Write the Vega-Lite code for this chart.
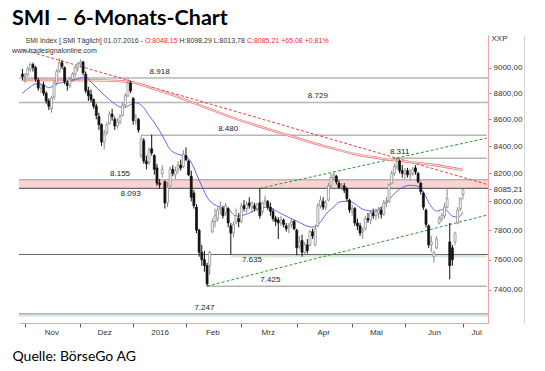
{
  "$schema": "https://vega.github.io/schema/vega-lite/v6.json",
  "width": 469,
  "height": 288,
  "autosize": "none",
  "padding": {"left": 19, "top": 35, "right": 57, "bottom": 48},
  "background": "white",
  "config": {"view": {"stroke": null}, "axis": {"grid": false}},
  "title": {
    "text": "SMI – 6-Monats-Chart",
    "subtitle": ["\u00a0\u00a0\u00a0\u00a0\u00a0\u00a0www.tradesignalonline.com"],
    "anchor": "start",
    "frame": "group",
    "dx": -7,
    "offset": -20,
    "font": "Lato",
    "fontSize": 21.5,
    "fontWeight": "bold",
    "color": "#000000",
    "subtitleFont": "Liberation Sans",
    "subtitleFontSize": 7,
    "subtitleColor": "#333333",
    "subtitleLineHeight": 10,
    "subtitlePadding": 18
  },
  "params": [
    {"name": "xdom", "value": ["2015-10-30",
      "2015-11-02","2015-11-03","2015-11-04","2015-11-05","2015-11-06","2015-11-09","2015-11-10","2015-11-11","2015-11-12","2015-11-13","2015-11-16","2015-11-17","2015-11-18","2015-11-19","2015-11-20","2015-11-23","2015-11-24","2015-11-25","2015-11-26","2015-11-27","2015-11-30",
      "2015-12-01","2015-12-02","2015-12-03","2015-12-04","2015-12-07","2015-12-08","2015-12-09","2015-12-10","2015-12-11","2015-12-14","2015-12-15","2015-12-16","2015-12-17","2015-12-18","2015-12-21","2015-12-22","2015-12-23","2015-12-28","2015-12-29","2015-12-30",
      "2016-01-04","2016-01-05","2016-01-06","2016-01-07","2016-01-08","2016-01-11","2016-01-12","2016-01-13","2016-01-14","2016-01-15","2016-01-18","2016-01-19","2016-01-20","2016-01-21","2016-01-22","2016-01-25","2016-01-26","2016-01-27","2016-01-28","2016-01-29",
      "2016-02-01","2016-02-02","2016-02-03","2016-02-04","2016-02-05","2016-02-08","2016-02-09","2016-02-10","2016-02-11","2016-02-12","2016-02-15","2016-02-16","2016-02-17","2016-02-18","2016-02-19","2016-02-22","2016-02-23","2016-02-24","2016-02-25","2016-02-26","2016-02-29",
      "2016-03-01","2016-03-02","2016-03-03","2016-03-04","2016-03-07","2016-03-08","2016-03-09","2016-03-10","2016-03-11","2016-03-14","2016-03-15","2016-03-16","2016-03-17","2016-03-18","2016-03-21","2016-03-22","2016-03-23","2016-03-24","2016-03-29","2016-03-30","2016-03-31",
      "2016-04-01","2016-04-04","2016-04-05","2016-04-06","2016-04-07","2016-04-08","2016-04-11","2016-04-12","2016-04-13","2016-04-14","2016-04-15","2016-04-18","2016-04-19","2016-04-20","2016-04-21","2016-04-22","2016-04-25","2016-04-26","2016-04-27","2016-04-28","2016-04-29",
      "2016-05-02","2016-05-03","2016-05-04","2016-05-06","2016-05-09","2016-05-10","2016-05-11","2016-05-12","2016-05-13","2016-05-17","2016-05-18","2016-05-19","2016-05-20","2016-05-23","2016-05-24","2016-05-25","2016-05-26","2016-05-27","2016-05-30","2016-05-31",
      "2016-06-01","2016-06-02","2016-06-03","2016-06-06","2016-06-07","2016-06-08","2016-06-09","2016-06-10","2016-06-13","2016-06-14","2016-06-15","2016-06-16","2016-06-17","2016-06-20","2016-06-21","2016-06-22","2016-06-23","2016-06-24","2016-06-27","2016-06-28","2016-06-29","2016-06-30",
      "2016-07-01","2016-07-04","2016-07-05","2016-07-06","2016-07-07","2016-07-08","2016-07-11","2016-07-12","2016-07-13","2016-07-14"]}
  ],
  "datasets": {
    "candles": [
      {"d":"2015-10-30","o":8950,"h":8990,"l":8900,"c":8930},
      {"d":"2015-11-02","o":8930,"h":8960,"l":8880,"c":8945},
      {"d":"2015-11-03","o":8945,"h":9010,"l":8930,"c":8990},
      {"d":"2015-11-04","o":8990,"h":9040,"l":8970,"c":9025},
      {"d":"2015-11-05","o":9025,"h":9040,"l":8970,"c":9000},
      {"d":"2015-11-06","o":9000,"h":9015,"l":8890,"c":8910},
      {"d":"2015-11-09","o":8900,"h":8920,"l":8820,"c":8840},
      {"d":"2015-11-10","o":8840,"h":8880,"l":8800,"c":8865},
      {"d":"2015-11-11","o":8865,"h":8890,"l":8780,"c":8800},
      {"d":"2015-11-12","o":8800,"h":8815,"l":8720,"c":8740},
      {"d":"2015-11-13","o":8740,"h":8760,"l":8670,"c":8700},
      {"d":"2015-11-16","o":8680,"h":8780,"l":8650,"c":8765},
      {"d":"2015-11-17","o":8770,"h":8900,"l":8750,"c":8880},
      {"d":"2015-11-18","o":8880,"h":8990,"l":8860,"c":8970},
      {"d":"2015-11-19","o":8975,"h":9075,"l":8960,"c":9040},
      {"d":"2015-11-20","o":9040,"h":9060,"l":8990,"c":9010},
      {"d":"2015-11-23","o":9000,"h":9010,"l":8870,"c":8890},
      {"d":"2015-11-24","o":8880,"h":8900,"l":8820,"c":8860},
      {"d":"2015-11-25","o":8860,"h":8930,"l":8840,"c":8910},
      {"d":"2015-11-26","o":8910,"h":8965,"l":8890,"c":8950},
      {"d":"2015-11-27","o":8950,"h":9020,"l":8930,"c":9000},
      {"d":"2015-11-30","o":9000,"h":9045,"l":8970,"c":9030},
      {"d":"2015-12-01","o":9030,"h":9065,"l":9000,"c":9045},
      {"d":"2015-12-02","o":9045,"h":9055,"l":8940,"c":8960},
      {"d":"2015-12-03","o":8950,"h":8970,"l":8800,"c":8820},
      {"d":"2015-12-04","o":8820,"h":8850,"l":8740,"c":8780},
      {"d":"2015-12-07","o":8790,"h":8830,"l":8730,"c":8750},
      {"d":"2015-12-08","o":8750,"h":8760,"l":8680,"c":8700},
      {"d":"2015-12-09","o":8700,"h":8720,"l":8600,"c":8630},
      {"d":"2015-12-10","o":8620,"h":8650,"l":8520,"c":8560},
      {"d":"2015-12-11","o":8560,"h":8570,"l":8400,"c":8430},
      {"d":"2015-12-14","o":8430,"h":8520,"l":8375,"c":8490},
      {"d":"2015-12-15","o":8500,"h":8580,"l":8480,"c":8560},
      {"d":"2015-12-16","o":8570,"h":8660,"l":8560,"c":8640},
      {"d":"2015-12-17","o":8640,"h":8680,"l":8590,"c":8620},
      {"d":"2015-12-18","o":8600,"h":8620,"l":8520,"c":8550},
      {"d":"2015-12-21","o":8550,"h":8610,"l":8530,"c":8580},
      {"d":"2015-12-22","o":8580,"h":8640,"l":8560,"c":8620},
      {"d":"2015-12-23","o":8630,"h":8730,"l":8620,"c":8710},
      {"d":"2015-12-28","o":8710,"h":8800,"l":8690,"c":8780},
      {"d":"2015-12-29","o":8780,"h":8918,"l":8770,"c":8880},
      {"d":"2015-12-30","o":8880,"h":8895,"l":8800,"c":8818},
      {"d":"2016-01-04","o":8760,"h":8770,"l":8560,"c":8590},
      {"d":"2016-01-05","o":8590,"h":8640,"l":8560,"c":8610},
      {"d":"2016-01-06","o":8600,"h":8610,"l":8500,"c":8520},
      {"d":"2016-01-07","o":8330,"h":8480,"l":8310,"c":8450},
      {"d":"2016-01-08","o":8440,"h":8460,"l":8270,"c":8290},
      {"d":"2016-01-11","o":8290,"h":8330,"l":8230,"c":8270},
      {"d":"2016-01-12","o":8280,"h":8390,"l":8260,"c":8370},
      {"d":"2016-01-13","o":8380,"h":8485,"l":8330,"c":8350},
      {"d":"2016-01-14","o":8330,"h":8340,"l":8190,"c":8230},
      {"d":"2016-01-15","o":8240,"h":8270,"l":8110,"c":8130},
      {"d":"2016-01-18","o":8130,"h":8160,"l":8090,"c":8120},
      {"d":"2016-01-19","o":8200,"h":8260,"l":8170,"c":8230},
      {"d":"2016-01-20","o":8140,"h":8150,"l":7950,"c":7990},
      {"d":"2016-01-21","o":7990,"h":8140,"l":7960,"c":8100},
      {"d":"2016-01-22","o":8110,"h":8250,"l":8100,"c":8230},
      {"d":"2016-01-25","o":8230,"h":8260,"l":8180,"c":8200},
      {"d":"2016-01-26","o":8190,"h":8250,"l":8160,"c":8220},
      {"d":"2016-01-27","o":8230,"h":8290,"l":8200,"c":8260},
      {"d":"2016-01-28","o":8260,"h":8300,"l":8220,"c":8240},
      {"d":"2016-01-29","o":8250,"h":8370,"l":8240,"c":8340},
      {"d":"2016-02-01","o":8330,"h":8390,"l":8290,"c":8300},
      {"d":"2016-02-02","o":8290,"h":8300,"l":8180,"c":8190},
      {"d":"2016-02-03","o":8180,"h":8220,"l":8000,"c":8030},
      {"d":"2016-02-04","o":8060,"h":8080,"l":7950,"c":7970},
      {"d":"2016-02-05","o":7960,"h":7980,"l":7780,"c":7800},
      {"d":"2016-02-08","o":7800,"h":7810,"l":7620,"c":7650},
      {"d":"2016-02-09","o":7650,"h":7700,"l":7560,"c":7600},
      {"d":"2016-02-10","o":7600,"h":7660,"l":7520,"c":7560},
      {"d":"2016-02-11","o":7560,"h":7580,"l":7425,"c":7440},
      {"d":"2016-02-12","o":7560,"h":7660,"l":7500,"c":7650},
      {"d":"2016-02-15","o":7790,"h":7880,"l":7780,"c":7860},
      {"d":"2016-02-16","o":7860,"h":7950,"l":7820,"c":7900},
      {"d":"2016-02-17","o":7880,"h":7960,"l":7860,"c":7940},
      {"d":"2016-02-18","o":7950,"h":8000,"l":7910,"c":7960},
      {"d":"2016-02-19","o":7950,"h":7970,"l":7880,"c":7900},
      {"d":"2016-02-22","o":7920,"h":7990,"l":7900,"c":7970},
      {"d":"2016-02-23","o":7950,"h":7960,"l":7820,"c":7850},
      {"d":"2016-02-24","o":7830,"h":7850,"l":7635,"c":7780},
      {"d":"2016-02-25","o":7780,"h":7860,"l":7750,"c":7840},
      {"d":"2016-02-26","o":7850,"h":7950,"l":7840,"c":7900},
      {"d":"2016-02-29","o":7880,"h":7920,"l":7820,"c":7860},
      {"d":"2016-03-01","o":7860,"h":7990,"l":7850,"c":7970},
      {"d":"2016-03-02","o":7970,"h":8010,"l":7930,"c":7950},
      {"d":"2016-03-03","o":7950,"h":8000,"l":7920,"c":7980},
      {"d":"2016-03-04","o":7990,"h":8030,"l":7950,"c":7970},
      {"d":"2016-03-07","o":7960,"h":8000,"l":7920,"c":7990},
      {"d":"2016-03-08","o":7970,"h":7990,"l":7930,"c":7950},
      {"d":"2016-03-09","o":7950,"h":7990,"l":7930,"c":7980},
      {"d":"2016-03-10","o":7990,"h":8093,"l":7880,"c":7900},
      {"d":"2016-03-11","o":7930,"h":8000,"l":7910,"c":7990},
      {"d":"2016-03-14","o":8000,"h":8040,"l":7970,"c":8010},
      {"d":"2016-03-15","o":8000,"h":8010,"l":7940,"c":7960},
      {"d":"2016-03-16","o":7960,"h":7990,"l":7900,"c":7930},
      {"d":"2016-03-17","o":7930,"h":7950,"l":7860,"c":7880},
      {"d":"2016-03-18","o":7880,"h":7900,"l":7830,"c":7860},
      {"d":"2016-03-21","o":7870,"h":7890,"l":7740,"c":7850},
      {"d":"2016-03-22","o":7850,"h":7900,"l":7830,"c":7870},
      {"d":"2016-03-23","o":7870,"h":7880,"l":7820,"c":7840},
      {"d":"2016-03-24","o":7830,"h":7850,"l":7790,"c":7810},
      {"d":"2016-03-29","o":7820,"h":7850,"l":7780,"c":7830},
      {"d":"2016-03-30","o":7840,"h":7880,"l":7820,"c":7860},
      {"d":"2016-03-31","o":7860,"h":7870,"l":7800,"c":7810},
      {"d":"2016-04-01","o":7800,"h":7810,"l":7630,"c":7680},
      {"d":"2016-04-04","o":7690,"h":7760,"l":7670,"c":7720},
      {"d":"2016-04-05","o":7730,"h":7770,"l":7620,"c":7650},
      {"d":"2016-04-06","o":7650,"h":7720,"l":7630,"c":7700},
      {"d":"2016-04-07","o":7700,"h":7740,"l":7640,"c":7660},
      {"d":"2016-04-08","o":7700,"h":7800,"l":7690,"c":7790},
      {"d":"2016-04-11","o":7790,"h":7810,"l":7740,"c":7760},
      {"d":"2016-04-12","o":7700,"h":7840,"l":7690,"c":7810},
      {"d":"2016-04-13","o":7830,"h":7990,"l":7820,"c":7970},
      {"d":"2016-04-14","o":7970,"h":8040,"l":7950,"c":8010},
      {"d":"2016-04-15","o":8000,"h":8030,"l":7940,"c":7960},
      {"d":"2016-04-18","o":7960,"h":8010,"l":7940,"c":7990},
      {"d":"2016-04-19","o":8010,"h":8130,"l":8000,"c":8110},
      {"d":"2016-04-20","o":8110,"h":8200,"l":8090,"c":8170},
      {"d":"2016-04-21","o":8170,"h":8215,"l":8150,"c":8190},
      {"d":"2016-04-22","o":8180,"h":8190,"l":8120,"c":8140},
      {"d":"2016-04-25","o":8130,"h":8150,"l":8090,"c":8100},
      {"d":"2016-04-26","o":8100,"h":8130,"l":8080,"c":8110},
      {"d":"2016-04-27","o":8110,"h":8130,"l":8060,"c":8080},
      {"d":"2016-04-28","o":8090,"h":8100,"l":8000,"c":8020},
      {"d":"2016-04-29","o":8010,"h":8020,"l":7920,"c":7940},
      {"d":"2016-05-02","o":7930,"h":7980,"l":7900,"c":7950},
      {"d":"2016-05-03","o":7950,"h":7960,"l":7830,"c":7850},
      {"d":"2016-05-04","o":7850,"h":7880,"l":7800,"c":7830},
      {"d":"2016-05-06","o":7830,"h":7850,"l":7760,"c":7780},
      {"d":"2016-05-09","o":7790,"h":7820,"l":7740,"c":7800},
      {"d":"2016-05-10","o":7810,"h":7900,"l":7800,"c":7880},
      {"d":"2016-05-11","o":7880,"h":7920,"l":7850,"c":7870},
      {"d":"2016-05-12","o":7870,"h":7940,"l":7840,"c":7920},
      {"d":"2016-05-13","o":7920,"h":7950,"l":7880,"c":7900},
      {"d":"2016-05-17","o":7900,"h":7950,"l":7870,"c":7930},
      {"d":"2016-05-18","o":7920,"h":7960,"l":7880,"c":7940},
      {"d":"2016-05-19","o":7940,"h":7960,"l":7880,"c":7910},
      {"d":"2016-05-20","o":7910,"h":8010,"l":7900,"c":7990},
      {"d":"2016-05-23","o":7990,"h":8030,"l":7960,"c":8000},
      {"d":"2016-05-24","o":8000,"h":8130,"l":7990,"c":8120},
      {"d":"2016-05-25","o":8130,"h":8220,"l":8120,"c":8200},
      {"d":"2016-05-26","o":8200,"h":8270,"l":8180,"c":8250},
      {"d":"2016-05-27","o":8250,"h":8311,"l":8230,"c":8290},
      {"d":"2016-05-30","o":8290,"h":8300,"l":8200,"c":8220},
      {"d":"2016-05-31","o":8220,"h":8260,"l":8170,"c":8200},
      {"d":"2016-06-01","o":8200,"h":8240,"l":8160,"c":8220},
      {"d":"2016-06-02","o":8220,"h":8240,"l":8170,"c":8190},
      {"d":"2016-06-03","o":8190,"h":8230,"l":8150,"c":8200},
      {"d":"2016-06-06","o":8200,"h":8250,"l":8180,"c":8230},
      {"d":"2016-06-07","o":8240,"h":8260,"l":8190,"c":8210},
      {"d":"2016-06-08","o":8200,"h":8210,"l":8130,"c":8140},
      {"d":"2016-06-09","o":8130,"h":8140,"l":8050,"c":8070},
      {"d":"2016-06-10","o":8060,"h":8070,"l":7940,"c":7960},
      {"d":"2016-06-13","o":7940,"h":7950,"l":7820,"c":7840},
      {"d":"2016-06-14","o":7830,"h":7840,"l":7680,"c":7700},
      {"d":"2016-06-15","o":7700,"h":7760,"l":7650,"c":7720},
      {"d":"2016-06-16","o":7620,"h":7660,"l":7580,"c":7650},
      {"d":"2016-06-17","o":7680,"h":7760,"l":7670,"c":7740},
      {"d":"2016-06-20","o":7850,"h":7900,"l":7840,"c":7880},
      {"d":"2016-06-21","o":7880,"h":7920,"l":7860,"c":7900},
      {"d":"2016-06-22","o":7900,"h":7990,"l":7880,"c":7960},
      {"d":"2016-06-23","o":7960,"h":8090,"l":7950,"c":8020},
      {"d":"2016-06-24","o":7720,"h":7850,"l":7470,"c":7560},
      {"d":"2016-06-27","o":7680,"h":7700,"l":7560,"c":7600},
      {"d":"2016-06-28","o":7720,"h":7790,"l":7700,"c":7780},
      {"d":"2016-06-29","o":7850,"h":7960,"l":7840,"c":7940},
      {"d":"2016-06-30","o":7950,"h":8030,"l":7930,"c":8020.13},
      {"d":"2016-07-01","o":8048.15,"h":8098.29,"l":8013.78,"c":8085.21}
    ],
    "ma": [
      {"d":"2015-10-30","v":8800},{"d":"2015-11-04","v":8849},{"d":"2015-11-06","v":8873},{"d":"2015-11-11","v":8865},
      {"d":"2015-11-13","v":8842},{"d":"2015-11-18","v":8873},{"d":"2015-11-24","v":8888},{"d":"2015-11-30","v":8912},
      {"d":"2015-12-03","v":8927},{"d":"2015-12-07","v":8888},{"d":"2015-12-10","v":8826},{"d":"2015-12-16","v":8750},
      {"d":"2015-12-21","v":8705},{"d":"2015-12-23","v":8689},{"d":"2015-12-30","v":8712},{"d":"2016-01-05","v":8727},
      {"d":"2016-01-08","v":8689},{"d":"2016-01-12","v":8629},{"d":"2016-01-15","v":8546},{"d":"2016-01-19","v":8479},
      {"d":"2016-01-22","v":8375},{"d":"2016-01-27","v":8339},{"d":"2016-02-01","v":8324},{"d":"2016-02-03","v":8280},
      {"d":"2016-02-05","v":8194},{"d":"2016-02-09","v":8108},{"d":"2016-02-11","v":8030},{"d":"2016-02-17","v":7967},
      {"d":"2016-02-23","v":7946},{"d":"2016-02-26","v":7897},{"d":"2016-03-03","v":7911},{"d":"2016-03-09","v":7946},
      {"d":"2016-03-15","v":7960},{"d":"2016-03-21","v":7925},{"d":"2016-03-24","v":7897},{"d":"2016-04-01","v":7863},
      {"d":"2016-04-07","v":7828},{"d":"2016-04-11","v":7821},{"d":"2016-04-14","v":7856},{"d":"2016-04-18","v":7911},
      {"d":"2016-04-21","v":7960},{"d":"2016-04-25","v":7995},{"d":"2016-04-28","v":8002},{"d":"2016-05-02","v":7995},
      {"d":"2016-05-09","v":7946},{"d":"2016-05-13","v":7932},{"d":"2016-05-18","v":7946},{"d":"2016-05-24","v":8016},
      {"d":"2016-05-30","v":8087},{"d":"2016-06-03","v":8115},{"d":"2016-06-08","v":8108},{"d":"2016-06-10","v":8066},
      {"d":"2016-06-14","v":7995},{"d":"2016-06-17","v":7932},{"d":"2016-06-22","v":7946},{"d":"2016-06-27","v":7897},
      {"d":"2016-06-29","v":7890},{"d":"2016-07-01","v":7925}
    ],
    "maLong": [
      {"d":"2015-10-30","v":8903},{"d":"2015-11-19","v":8903},{"d":"2015-12-10","v":8900},{"d":"2015-12-30","v":8887},
      {"d":"2016-01-14","v":8833},{"d":"2016-01-27","v":8771},{"d":"2016-02-10","v":8694},{"d":"2016-02-24","v":8618},
      {"d":"2016-03-22","v":8497},{"d":"2016-04-20","v":8386},{"d":"2016-05-03","v":8341},{"d":"2016-05-18","v":8312},
      {"d":"2016-05-31","v":8290},{"d":"2016-06-16","v":8261},{"d":"2016-07-01","v":8225}
    ],
    "levelsLight": [{"v":8918},{"v":8729},{"v":8155},{"v":7247}],
    "levelsDark": [{"v":8093},{"v":7635}],
    "levelsPartial": [
      {"v":8480,"d":"2016-01-07","d2":"2016-07-14"},
      {"v":8311,"d":"2016-05-26","d2":"2016-07-14"},
      {"v":7425,"d":"2016-02-11","d2":"2016-07-14"}
    ],
    "redTrends": [
      {"d":"2015-10-30","v":9145,"d2":"2016-07-14","v2":8122}
    ],
    "greenTrends": [
      {"d":"2016-02-11","v":7425,"d2":"2016-07-14","v2":7904},
      {"d":"2016-03-10","v":8093,"d2":"2016-07-14","v2":8459}
    ],
    "labelsAbove": [
      {"d":"2016-01-18","v":8918,"t":"8.918"},
      {"d":"2016-04-13","v":8729,"t":"8.729"},
      {"d":"2016-02-23","v":8480,"t":"8.480"},
      {"d":"2016-05-30","v":8311,"t":"8.311"},
      {"d":"2015-12-22","v":8155,"t":"8.155"},
      {"d":"2016-03-16","v":7425,"t":"7.425"},
      {"d":"2016-02-10","v":7247,"t":"7.247"}
    ],
    "labelsBelow": [
      {"d":"2015-12-30","v":8093,"t":"8.093"},
      {"d":"2016-03-07","v":7635,"t":"7.635"}
    ]
  },
  "layer": [
    {
      "data": {"values": [{"v":8093,"v2":8155}]},
      "mark": {"type": "rect", "color": "#fbd3d3"},
      "encoding": {
        "y": {"field": "v", "type": "quantitative", "scale": {"type": "log", "domain": [7188, 9263], "nice": false, "zero": false}, "axis": null},
        "y2": {"field": "v2"}
      }
    },
    {
      "data": {"values": [{"v":7229,"v2":7247}]},
      "mark": {"type": "rect", "color": "#d3ead3"},
      "encoding": {
        "y": {"field": "v", "type": "quantitative", "scale": {"type": "log", "domain": [7188, 9263], "nice": false, "zero": false}, "axis": null},
        "y2": {"field": "v2"}
      }
    },
    {
      "data": {"values": [{"d":"2016-02-24","d2":"2016-07-14","v":7617,"v2":7635}]},
      "mark": {"type": "rect", "color": "#d3ead3"},
      "encoding": {
        "x": {"field": "d", "type": "ordinal", "scale": {"type": "point", "domain": {"expr": "xdom"}, "padding": 0.9, "align": 0.7222}, "axis": null},
        "x2": {"field": "d2"},
        "y": {"field": "v", "type": "quantitative", "scale": {"type": "log", "domain": [7188, 9263], "nice": false, "zero": false}, "axis": null},
        "y2": {"field": "v2"}
      }
    },
    {
      "data": {"name": "levelsLight"},
      "mark": {"type": "rule", "color": "#b5b5b5", "strokeWidth": 1.5},
      "encoding": {
        "y": {"field": "v", "type": "quantitative", "scale": {"type": "log", "domain": [7188, 9263], "nice": false, "zero": false}, "axis": null}
      }
    },
    {
      "data": {"name": "levelsDark"},
      "mark": {"type": "rule", "color": "#6a6a6a", "strokeWidth": 1.2},
      "encoding": {
        "y": {"field": "v", "type": "quantitative", "scale": {"type": "log", "domain": [7188, 9263], "nice": false, "zero": false}, "axis": null}
      }
    },
    {
      "data": {"name": "levelsPartial"},
      "mark": {"type": "rule", "color": "#b5b5b5", "strokeWidth": 1.5},
      "encoding": {
        "x": {"field": "d", "type": "ordinal", "scale": {"type": "point", "domain": {"expr": "xdom"}, "padding": 0.9, "align": 0.7222},
          "axis": {"orient": "bottom", "domain": false, "ticks": false, "labels": false, "title": "SMI Index [.SMI Täglich] 01.07.2016 -", "titleX": 6, "titleY": -283, "titleAlign": "left", "titleAnchor": "start", "titleBaseline": "middle", "titleFont": "Liberation Sans", "titleFontSize": 7, "titleFontWeight": "normal", "titleColor": "#333333"}},
        "x2": {"field": "d2"},
        "y": {"field": "v", "type": "quantitative", "scale": {"type": "log", "domain": [7188, 9263], "nice": false, "zero": false}, "axis": null}
      }
    },
    {
      "data": {"name": "redTrends"},
      "mark": {"type": "rule", "color": "#f03a3a", "strokeWidth": 1, "strokeDash": [3, 2], "clip": true},
      "encoding": {
        "x": {"field": "d", "type": "ordinal", "scale": {"type": "point", "domain": {"expr": "xdom"}, "padding": 0.9, "align": 0.7222},
          "axis": {"orient": "bottom", "domain": false, "ticks": false, "labels": false, "title": "O:8048,15", "titleX": 125.4, "titleY": -283, "titleAlign": "left", "titleAnchor": "start", "titleBaseline": "middle", "titleFont": "Liberation Sans", "titleFontSize": 7, "titleFontWeight": "normal", "titleColor": "#f22a2a"}},
        "x2": {"field": "d2"},
        "y": {"field": "v", "type": "quantitative", "scale": {"type": "log", "domain": [7188, 9263], "nice": false, "zero": false}, "axis": null},
        "y2": {"field": "v2"}
      }
    },
    {
      "data": {"name": "greenTrends"},
      "mark": {"type": "rule", "color": "#2e9a2e", "strokeWidth": 1, "strokeDash": [3, 2], "clip": true},
      "encoding": {
        "x": {"field": "d", "type": "ordinal", "scale": {"type": "point", "domain": {"expr": "xdom"}, "padding": 0.9, "align": 0.7222},
          "axis": {"orient": "bottom", "domain": false, "ticks": false, "labels": false, "title": "H:8098,29 L:8013,78", "titleX": 160, "titleY": -283, "titleAlign": "left", "titleAnchor": "start", "titleBaseline": "middle", "titleFont": "Liberation Sans", "titleFontSize": 7, "titleFontWeight": "normal", "titleColor": "#333333"}},
        "x2": {"field": "d2"},
        "y": {"field": "v", "type": "quantitative", "scale": {"type": "log", "domain": [7188, 9263], "nice": false, "zero": false}, "axis": null},
        "y2": {"field": "v2"}
      }
    },
    {
      "data": {"name": "maLong"},
      "mark": {"type": "line", "color": "#f27070", "strokeWidth": 2.3, "interpolate": "monotone"},
      "encoding": {
        "x": {"field": "d", "type": "ordinal", "scale": {"type": "point", "domain": {"expr": "xdom"}, "padding": 0.9, "align": 0.7222}, "axis": null},
        "y": {"field": "v", "type": "quantitative", "scale": {"type": "log", "domain": [7188, 9263], "nice": false, "zero": false}, "axis": null}
      }
    },
    {
      "data": {"name": "maLong"},
      "mark": {"type": "line", "color": "#ffffff", "strokeWidth": 0.8, "interpolate": "monotone"},
      "encoding": {
        "x": {"field": "d", "type": "ordinal", "scale": {"type": "point", "domain": {"expr": "xdom"}, "padding": 0.9, "align": 0.7222}, "axis": null},
        "y": {"field": "v", "type": "quantitative", "scale": {"type": "log", "domain": [7188, 9263], "nice": false, "zero": false}, "axis": null}
      }
    },
    {
      "data": {"name": "ma"},
      "mark": {"type": "line", "color": "#4a58ff", "strokeWidth": 0.9, "interpolate": "monotone"},
      "encoding": {
        "x": {"field": "d", "type": "ordinal", "scale": {"type": "point", "domain": {"expr": "xdom"}, "padding": 0.9, "align": 0.7222},
          "axis": {"orient": "bottom", "domain": false, "ticks": false, "labels": false, "title": "C:8085,21 +65,08 +0,81%", "titleX": 227.4, "titleY": -283, "titleAlign": "left", "titleAnchor": "start", "titleBaseline": "middle", "titleFont": "Liberation Sans", "titleFontSize": 7, "titleFontWeight": "normal", "titleColor": "#f22a2a"}},
        "y": {"field": "v", "type": "quantitative", "scale": {"type": "log", "domain": [7188, 9263], "nice": false, "zero": false}, "axis": null}
      }
    },
    {
      "data": {"name": "candles"},
      "mark": {"type": "rule", "strokeWidth": 1},
      "encoding": {
        "x": {"field": "d", "type": "ordinal", "scale": {"type": "point", "domain": {"expr": "xdom"}, "padding": 0.9, "align": 0.7222},
          "axis": {"orient": "bottom", "values": ["2015-11-02","2015-12-01","2016-01-04","2016-02-01","2016-03-01","2016-04-01","2016-05-02","2016-06-01","2016-07-01"], "labels": false, "ticks": true, "tickSize": 4, "tickColor": "#555555", "domain": true, "domainColor": "#f2a0a0", "domainWidth": 1, "title": null}},
        "y": {"field": "l", "type": "quantitative", "scale": {"type": "log", "domain": [7188, 9263], "nice": false, "zero": false},
          "axis": {"orient": "right", "values": [7400, 7600, 7800, 8000, 8085.21, 8200, 8400, 8600, 8800, 9000], "labelExpr": "replace(format(datum.value, '.2f'), '.', ',')", "labelFont": "Liberation Sans", "labelFontSize": 8, "labelColor": "#333333", "labelPadding": 2, "labelOverlap": false, "tickSize": 3, "tickColor": "#999999", "domainColor": "#f2a0a0", "domainWidth": 1, "title": "XXP", "titleAngle": 0, "titleAlign": "left", "titleBaseline": "middle", "titleX": 3, "titleY": 3, "titleFont": "Liberation Sans", "titleFontSize": 8, "titleFontWeight": "normal", "titleColor": "#333333"}},
        "y2": {"field": "h"},
        "stroke": {"condition": {"test": "datum.c >= datum.o", "value": "#8a8a8a"}, "value": "#111111"}
      }
    },
    {
      "data": {"name": "candles"},
      "mark": {"type": "bar", "size": 2, "strokeWidth": 0.7},
      "encoding": {
        "x": {"field": "d", "type": "ordinal", "scale": {"type": "point", "domain": {"expr": "xdom"}, "padding": 0.9, "align": 0.7222}, "axis": null},
        "y": {"field": "o", "type": "quantitative", "scale": {"type": "log", "domain": [7188, 9263], "nice": false, "zero": false}, "axis": null},
        "y2": {"field": "c"},
        "fill": {"condition": {"test": "datum.c >= datum.o", "value": "#ffffff"}, "value": "#111111"},
        "stroke": {"condition": {"test": "datum.c >= datum.o", "value": "#808080"}, "value": "#111111"}
      }
    },
    {
      "data": {"name": "labelsAbove"},
      "mark": {"type": "text", "dy": -6, "font": "Liberation Sans", "fontSize": 8, "color": "#222222", "baseline": "middle"},
      "encoding": {
        "x": {"field": "d", "type": "ordinal", "scale": {"type": "point", "domain": {"expr": "xdom"}, "padding": 0.9, "align": 0.7222}, "axis": null},
        "y": {"field": "v", "type": "quantitative", "scale": {"type": "log", "domain": [7188, 9263], "nice": false, "zero": false},
          "axis": {"orient": "right", "offset": 36, "labels": false, "ticks": false, "domain": true, "domainColor": "#d4d4d4", "domainWidth": 1, "title": null}},
        "text": {"field": "t"}
      }
    },
    {
      "data": {"name": "labelsBelow"},
      "mark": {"type": "text", "dy": 6, "font": "Liberation Sans", "fontSize": 8, "color": "#222222", "baseline": "middle"},
      "encoding": {
        "x": {"field": "d", "type": "ordinal", "scale": {"type": "point", "domain": {"expr": "xdom"}, "padding": 0.9, "align": 0.7222},
          "axis": {"orient": "bottom", "values": ["2015-11-16","2015-12-14","2016-01-18","2016-02-15","2016-03-15","2016-04-15","2016-05-17","2016-06-16","2016-07-08"],
            "labelExpr": "substring(datum.value,5,7)=='11'?'Nov':substring(datum.value,5,7)=='12'?'Dez':substring(datum.value,5,7)=='01'?'2016':substring(datum.value,5,7)=='02'?'Feb':substring(datum.value,5,7)=='03'?'Mrz':substring(datum.value,5,7)=='04'?'Apr':substring(datum.value,5,7)=='05'?'Mai':substring(datum.value,5,7)=='06'?'Jun':'Jul'",
            "labelAngle": 0, "labelFont": "Liberation Sans", "labelFontSize": 8, "labelColor": "#333333", "labelPadding": 5, "labelOverlap": false,
            "ticks": false, "domain": false,
            "title": "Quelle: BörseGo AG", "titleFont": "Lato", "titleFontSize": 14, "titleFontWeight": "normal", "titleColor": "#000000", "titleAnchor": "start", "titleAlign": "left", "titleX": -7, "titleY": 37, "titleBaseline": "alphabetic"}},
        "y": {"field": "v", "type": "quantitative", "scale": {"type": "log", "domain": [7188, 9263], "nice": false, "zero": false}, "axis": null},
        "text": {"field": "t"}
      }
    }
  ],
  "resolve": {"axis": {"x": "independent", "y": "independent"}}
}
